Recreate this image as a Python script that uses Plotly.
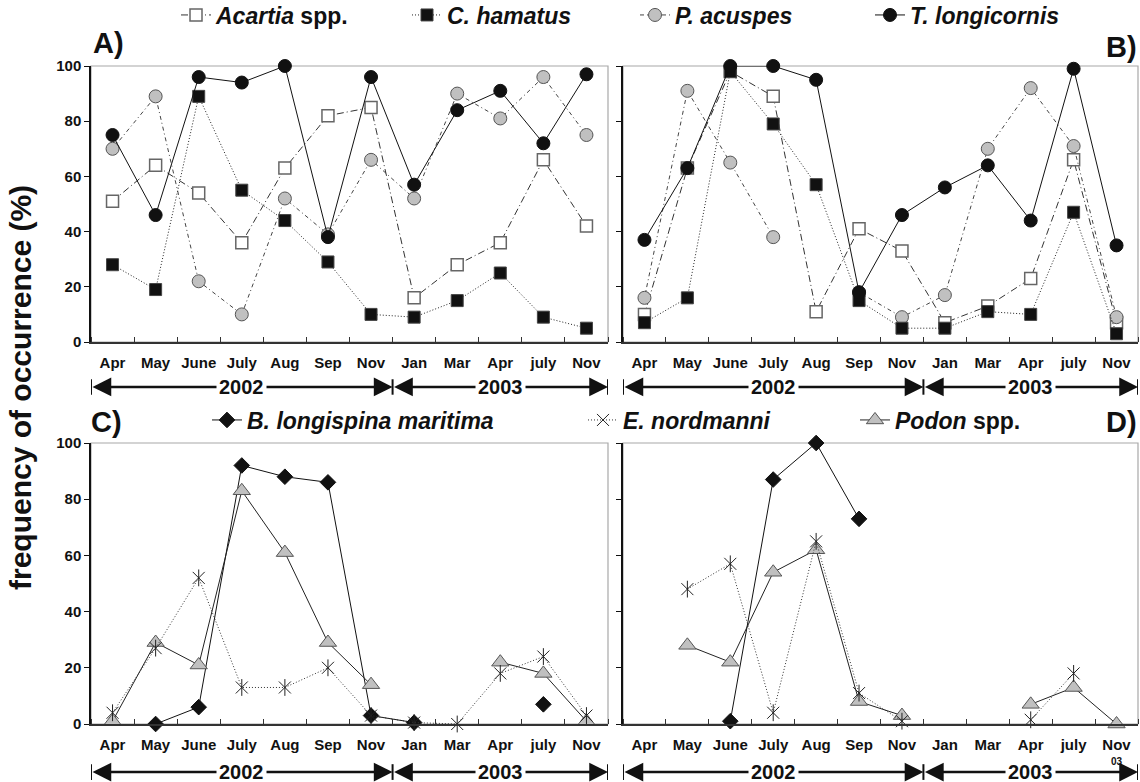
import plotly.graph_objects as go

# ---------------- data ----------------
months = ["Apr", "May", "June", "July", "Aug", "Sep", "Nov", "Jan", "Mar", "Apr", "july", "Nov"]
year_labels = ["2002", "2003"]
months_per_year = [7, 5]

# Panel A
acartia_A = [51, 64, 54, 36, 63, 82, 85, 16, 28, 36, 66, 42]
hamatus_A = [28, 19, 89, 55, 44, 29, 10, 9, 15, 25, 9, 5]
acuspes_A = [70, 89, 22, 10, 52, 39, 66, 52, 90, 81, 96, 75]
longicornis_A = [75, 46, 96, 94, 100, 38, 96, 57, 84, 91, 72, 97]

# Panel B
acartia_B = [10, 63, 98, 89, 11, 41, 33, 7, 13, 23, 66, 7]
hamatus_B = [7, 16, 98, 79, 57, 15, 5, 5, 11, 10, 47, 3]
acuspes_B = [16, 91, 65, 38, None, 18, 9, 17, 70, 92, 71, 9]
longicornis_B = [37, 63, 100, 100, 95, 18, 46, 56, 64, 44, 99, 35]

# Panel C
bosmina_C = [None, 0, 6, 92, 88, 86, 3, 0.5, None, None, 7, None]
evadne_C = [4, 27, 52, 13, 13, 20, 3, 0.5, 0, 18, 24, 3]
podon_C = [1, 29, 21, 83, 61, 29, 14, None, None, 22, 18, 1]

# Panel D
bosmina_D = [None, None, 1, 87, 100, 73, None, None, None, None, None, None]
evadne_D = [None, 48, 57, 4, 65, 11, 1, None, None, 1.5, 18, None]
podon_D = [None, 28, 22, 54, 62, 8, 3, None, None, 7, 13, 0]

names = {
    "acartia": "<i>Acartia</i> spp.",
    "hamatus": "<i>C. hamatus</i>",
    "acuspes": "<i>P. acuspes</i>",
    "longicornis": "<i>T. longicornis</i>",
    "bosmina": "<i>B. longispina maritima</i>",
    "evadne": "<i>E. nordmanni</i>",
    "podon": "<i>Podon</i> spp.",
}

# ---------------- styling ----------------
W, H = 1140, 782
FONT = "Arial, Liberation Sans, sans-serif"
x_idx = list(range(len(months)))

styles = {
    "acartia": dict(line=dict(color="#333", width=1, dash="7px,3px,1px,3px"),
                    marker=dict(symbol="square", size=12, color="white", line=dict(color="#666", width=1.5))),
    "acuspes": dict(line=dict(color="#444", width=1, dash="4px,3px,1px,3px"),
                    marker=dict(symbol="circle", size=13, color="#c0c0c0", line=dict(color="#555", width=1))),
    "hamatus": dict(line=dict(color="#222", width=1, dash="1px,2px"),
                    marker=dict(symbol="square", size=12, color="#111", line=dict(color="#444", width=1))),
    "longicornis": dict(line=dict(color="#111", width=1),
                        marker=dict(symbol="circle", size=13, color="#111", line=dict(color="#111", width=1))),
    "bosmina": dict(line=dict(color="#111", width=1),
                    marker=dict(symbol="diamond", size=12, color="#111", line=dict(color="#111", width=1))),
    "podon": dict(line=dict(color="#222", width=1),
                  marker=dict(symbol="triangle-up", size=15, color="#c0c0c0", line=dict(color="#555", width=1))),
    "evadne": dict(line=dict(color="#333", width=1, dash="1px,2px"),
                   marker=dict(symbol="x-thin-open", size=12, color="#222", line=dict(color="#222", width=1))),
}

panels = [
    # key, xaxis, yaxis, x-domain(px), y-domain(px top,bottom), show y labels
    ("A", "x", "y", (91, 608), (66, 342), True),
    ("B", "x2", "y2", (623, 1138), (66, 342), False),
    ("C", "x3", "y3", (91, 608), (443, 724), True),
    ("D", "x4", "y4", (623, 1138), (443, 724), False),
]

series = [
    ("A", "acartia", acartia_A), ("A", "acuspes", acuspes_A), ("A", "hamatus", hamatus_A), ("A", "longicornis", longicornis_A),
    ("B", "acartia", acartia_B), ("B", "acuspes", acuspes_B), ("B", "hamatus", hamatus_B), ("B", "longicornis", longicornis_B),
    ("C", "bosmina", bosmina_C), ("C", "podon", podon_C), ("C", "evadne", evadne_C),
    ("D", "bosmina", bosmina_D), ("D", "podon", podon_D), ("D", "evadne", evadne_D),
]

legend_of = {"acartia": "legend", "hamatus": "legend2", "acuspes": "legend3", "longicornis": "legend4",
             "bosmina": "legend5", "evadne": "legend6", "podon": "legend7"}
# text start x (px) and centre y (px) of each legend entry
legend_pos = {"legend": (216, 15), "legend2": (447, 15), "legend3": (675, 15), "legend4": (910, 15),
              "legend5": (247, 420), "legend6": (623, 420), "legend7": (895, 420)}

axmap = {p[0]: (p[1], p[2]) for p in panels}

fig = go.Figure()
shown = set()
for pk, sk, vals in series:
    xa, ya = axmap[pk]
    st = styles[sk]
    show = sk not in shown
    shown.add(sk)
    fig.add_trace(go.Scatter(
        x=x_idx, y=vals, mode="lines+markers", name=names[sk],
        xaxis=xa, yaxis=ya, line=st["line"], marker=st["marker"],
        connectgaps=False, cliponaxis=False, showlegend=show, legend=legend_of[sk]))
    if sk == "evadne":
        fig.add_trace(go.Scatter(
            x=x_idx, y=vals, mode="markers", xaxis=xa, yaxis=ya, showlegend=False,
            marker=dict(symbol="line-ns-open", size=12, color="#222", line=dict(color="#222", width=1)),
            cliponaxis=False, hoverinfo="skip"))

layout = dict(width=W, height=H, margin=dict(l=0, r=0, t=0, b=0, autoexpand=False),
              paper_bgcolor="white", plot_bgcolor="white",
              font=dict(family=FONT, color="#111"))

boundaries = [i - 0.5 for i in range(len(months) + 1)]
shapes = []
annotations = []
year_y = {"A": -0.163, "B": -0.163, "C": -0.171, "D": -0.171}

for key, xa, ya, (xl, xr), (yt, yb), showlab in panels:
    xname = "xaxis" if xa == "x" else "xaxis" + xa[1:]
    yname = "yaxis" if ya == "y" else "yaxis" + ya[1:]
    layout[xname] = dict(domain=[xl / W, xr / W], anchor=ya, range=[-0.5, len(months) - 0.5],
                         tickmode="array", tickvals=x_idx, ticktext=months, ticks="",
                         showline=True, linecolor="#333", linewidth=1.5, showgrid=False, zeroline=False,
                         tickfont=dict(size=15, family=FONT, weight="bold", color="#111"),
                         ticklabelstandoff=6,
                         minor=dict(tickmode="array", tickvals=boundaries, ticks="inside", ticklen=5,
                                    tickcolor="#333", tickwidth=1, showgrid=False))
    layout[yname] = dict(domain=[1 - yb / H, 1 - yt / H], anchor=xa, range=[0, 100],
                         tickmode="array", tickvals=[0, 20, 40, 60, 80, 100], ticks="outside", ticklen=5,
                         tickcolor="#111", tickwidth=1, showticklabels=showlab,
                         showline=True, linecolor="#111", linewidth=1.5, showgrid=False, zeroline=False,
                         tickfont=dict(size=15, family=FONT, weight="bold", color="#111"))
    # grey frame
    shapes.append(dict(type="rect", xref=f"{xa} domain", yref=f"{ya} domain", x0=0, x1=1, y0=0, y1=1,
                       line=dict(color="#a8a8a8", width=1.2), layer="below"))
    # year arrows
    yy = year_y[key]
    start = -0.5
    bars = [start]
    for lab, n in zip(year_labels, months_per_year):
        end = start + n
        annotations.append(dict(xref=xa, yref=f"{ya} domain", x=end, y=yy, axref=xa, ayref=f"{ya} domain",
                                ax=start, ay=yy, text="", showarrow=True, arrowhead=2, startarrowhead=2,
                                arrowside="end+start", arrowwidth=2.5, arrowsize=1.5, startarrowsize=1.5,
                                arrowcolor="#111", standoff=0, startstandoff=0))
        bars.append(end)
        start = end
    start = -0.5
    for lab, n in zip(year_labels, months_per_year):
        end = start + n
        annotations.append(dict(xref=xa, yref=f"{ya} domain", x=(start + end) / 2, y=yy, text=f"<b>{lab}</b>",
                                xanchor="center", yanchor="middle",
                                showarrow=False, bgcolor="white", borderpad=2,
                                font=dict(size=20, family=FONT, color="#111")))
        start = end
    for b in bars:
        shapes.append(dict(type="line", xref=xa, yref=f"{ya} domain", x0=b, x1=b, y0=yy - 0.028, y1=yy + 0.028,
                           line=dict(color="#111", width=2)))

# panel letters
annotations += [
    dict(xref="paper", yref="paper", x=91 / W, y=1 - 43 / H, xanchor="left", yanchor="middle", text="<b>A)</b>",
         showarrow=False, font=dict(size=29, family=FONT, color="#111")),
    dict(xref="paper", yref="paper", x=1139 / W, y=1 - 47 / H, xanchor="right", yanchor="middle", text="<b>B)</b>",
         showarrow=False, font=dict(size=29, family=FONT, color="#111")),
    dict(xref="paper", yref="paper", x=89 / W, y=1 - 422 / H, xanchor="left", yanchor="middle", text="<b>C)</b>",
         showarrow=False, font=dict(size=29, family=FONT, color="#111")),
    dict(xref="paper", yref="paper", x=1139 / W, y=1 - 422 / H, xanchor="right", yanchor="middle", text="<b>D)</b>",
         showarrow=False, font=dict(size=29, family=FONT, color="#111")),
    dict(xref="paper", yref="paper", x=20 / W, y=1 - 388 / H, xanchor="center", yanchor="middle",
         text="<b>frequency of occurrence (%)</b>", textangle=-90, showarrow=False,
         font=dict(size=30, family=FONT, color="#111")),
    dict(xref="x4", yref="y4 domain", x=len(months) - 1, y=-0.135, text="<b>03</b>", showarrow=False,
         xanchor="center", yanchor="middle", font=dict(size=10, family=FONT, color="#111")),
]

for lg, (tx, ty) in legend_pos.items():
    layout[lg] = dict(x=(tx - 40) / W, y=1 - ty / H, xref="container", yref="container",
                      xanchor="left", yanchor="middle", orientation="h",
                      bgcolor="rgba(0,0,0,0)", borderwidth=0,
                      font=dict(size=23, family=FONT, weight="bold", color="#111"))

layout["shapes"] = shapes
layout["annotations"] = annotations
layout["showlegend"] = True
fig.update_layout(**layout)

fig.write_html("out.html")
